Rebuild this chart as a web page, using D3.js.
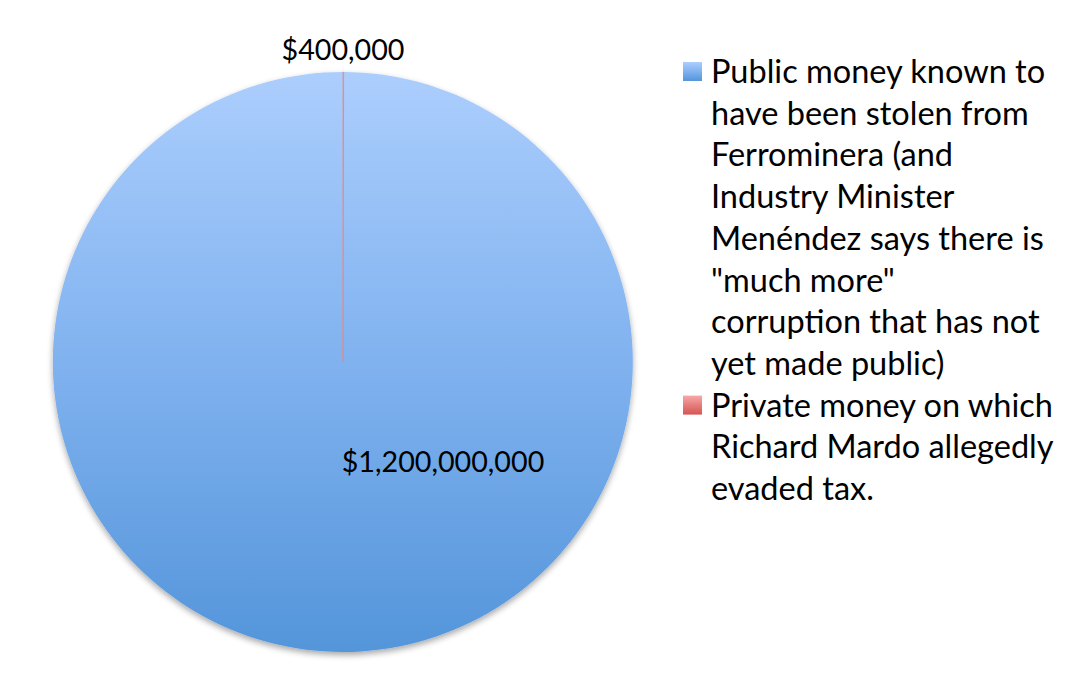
<!DOCTYPE html>
<html>
<head>
<meta charset="utf-8">
<script src="https://cdn.jsdelivr.net/npm/d3@7"></script>
<style>
  html, body { margin: 0; padding: 0; background: #ffffff; }
  svg { display: block; }
  text { font-family: Lato, "Open Sans", sans-serif; fill: #000; }
</style>
</head>
<body>
<svg id="chart" width="1070" height="674"></svg>
<script>
// Slice categories, values and the labels printed for them
const categories = [
  "Public money known to have been stolen from Ferrominera (and Industry Minister Menéndez says there is \"much more\" corruption that has not yet made public)",
  "Private money on which Richard Mardo allegedly evaded tax."
];
const values = [1200000000, 400000];
const valueLabels = ["$1,200,000,000", "$400,000"];
const legendLines = [
  ["Public money known to", "have been stolen from", "Ferrominera (and", "Industry Minister",
   "Menéndez says there is", "\"much more\"", "corruption that has not", "yet made public)"],
  ["Private money on which", "Richard Mardo allegedly", "evaded tax."]
];

const svg = d3.select("#chart");
const cx = 343, cy = 362, R = 290;

const defs = svg.append("defs");

// vertical gradients for each slice colour
const grads = [
  { id: "gBlue", stops: ["#accefd", "#80b2ef", "#5495da"] },
  { id: "gRed",  stops: ["#f6aaa8", "#e57d7b", "#d65552"] }
];
grads.forEach(g => {
  const lg = defs.append("linearGradient").attr("id", g.id)
    .attr("x1", 0).attr("y1", 0).attr("x2", 0).attr("y2", 1);
  g.stops.forEach((c, i) => lg.append("stop").attr("offset", i / (g.stops.length - 1)).attr("stop-color", c));
});
["gPie", "gPieR"].forEach((id, k) => {
  const lg = defs.append("linearGradient").attr("id", id)
    .attr("gradientUnits", "userSpaceOnUse")
    .attr("x1", 0).attr("y1", -R).attr("x2", 0).attr("y2", R);
  grads[k].stops.forEach((c, i) => lg.append("stop").attr("offset", i / 2).attr("stop-color", c));
});

// soft drop shadow under the pie
const shadow = defs.append("filter").attr("id", "shadow")
  .attr("x", "-10%").attr("y", "-10%").attr("width", "120%").attr("height", "125%");
shadow.append("feGaussianBlur").attr("in", "SourceAlpha").attr("stdDeviation", 3);
shadow.append("feOffset").attr("dx", 0).attr("dy", 3).attr("result", "blur");
shadow.append("feComponentTransfer").append("feFuncA").attr("type", "linear").attr("slope", 0.35);
const merge = shadow.append("feMerge");
merge.append("feMergeNode");
merge.append("feMergeNode").attr("in", "SourceGraphic");

const data = categories.map((c, i) => ({ name: c, value: values[i], label: valueLabels[i] }));
const fills = ["url(#gPie)", "url(#gPieR)"];

// the small slice ends at 12 o'clock, the large one runs clockwise from it
const small = values[1] / d3.sum(values) * 2 * Math.PI;
const arcsData = d3.pie().value(d => d.value).sort(null)
  .startAngle(small).endAngle(2 * Math.PI + small)(data);

const arc = d3.arc().innerRadius(0).outerRadius(R);

const g = svg.append("g").attr("transform", `translate(${cx},${cy})`);
const pieG = g.append("g").attr("filter", "url(#shadow)");
pieG.selectAll("path").data(arcsData).join("path")
  .attr("d", arc)
  .attr("fill", (d, i) => fills[i])
  .attr("stroke", (d, i) => i === 1 ? "#e08a8a" : "none")
  .attr("stroke-width", 0.8);

// value labels
g.append("text")
  .attr("x", 100).attr("y", 110)
  .attr("text-anchor", "middle")
  .style("font-size", "28.7px")
  .text(arcsData[0].data.label);
g.append("text")
  .attr("x", 0).attr("y", -R - 12)
  .attr("text-anchor", "middle")
  .style("font-size", "28.7px")
  .text(arcsData[1].data.label);

// legend
const legend = svg.append("g").attr("transform", "translate(683,0)");
const lineH = 41.7;
let row = 0;
const swatchFill = ["url(#gBlue)", "url(#gRed)"];
legendLines.forEach((lines, i) => {
  const y0 = 83 + row * lineH;
  legend.append("rect")
    .attr("x", 0).attr("y", y0 - 21).attr("width", 19).attr("height", 19)
    .attr("fill", swatchFill[i]);
  lines.forEach((t, j) => {
    legend.append("text")
      .attr("x", 28).attr("y", y0 + j * lineH)
      .style("font-size", "32.5px")
      .text(t);
  });
  row += lines.length;
});
</script>
</body>
</html>
